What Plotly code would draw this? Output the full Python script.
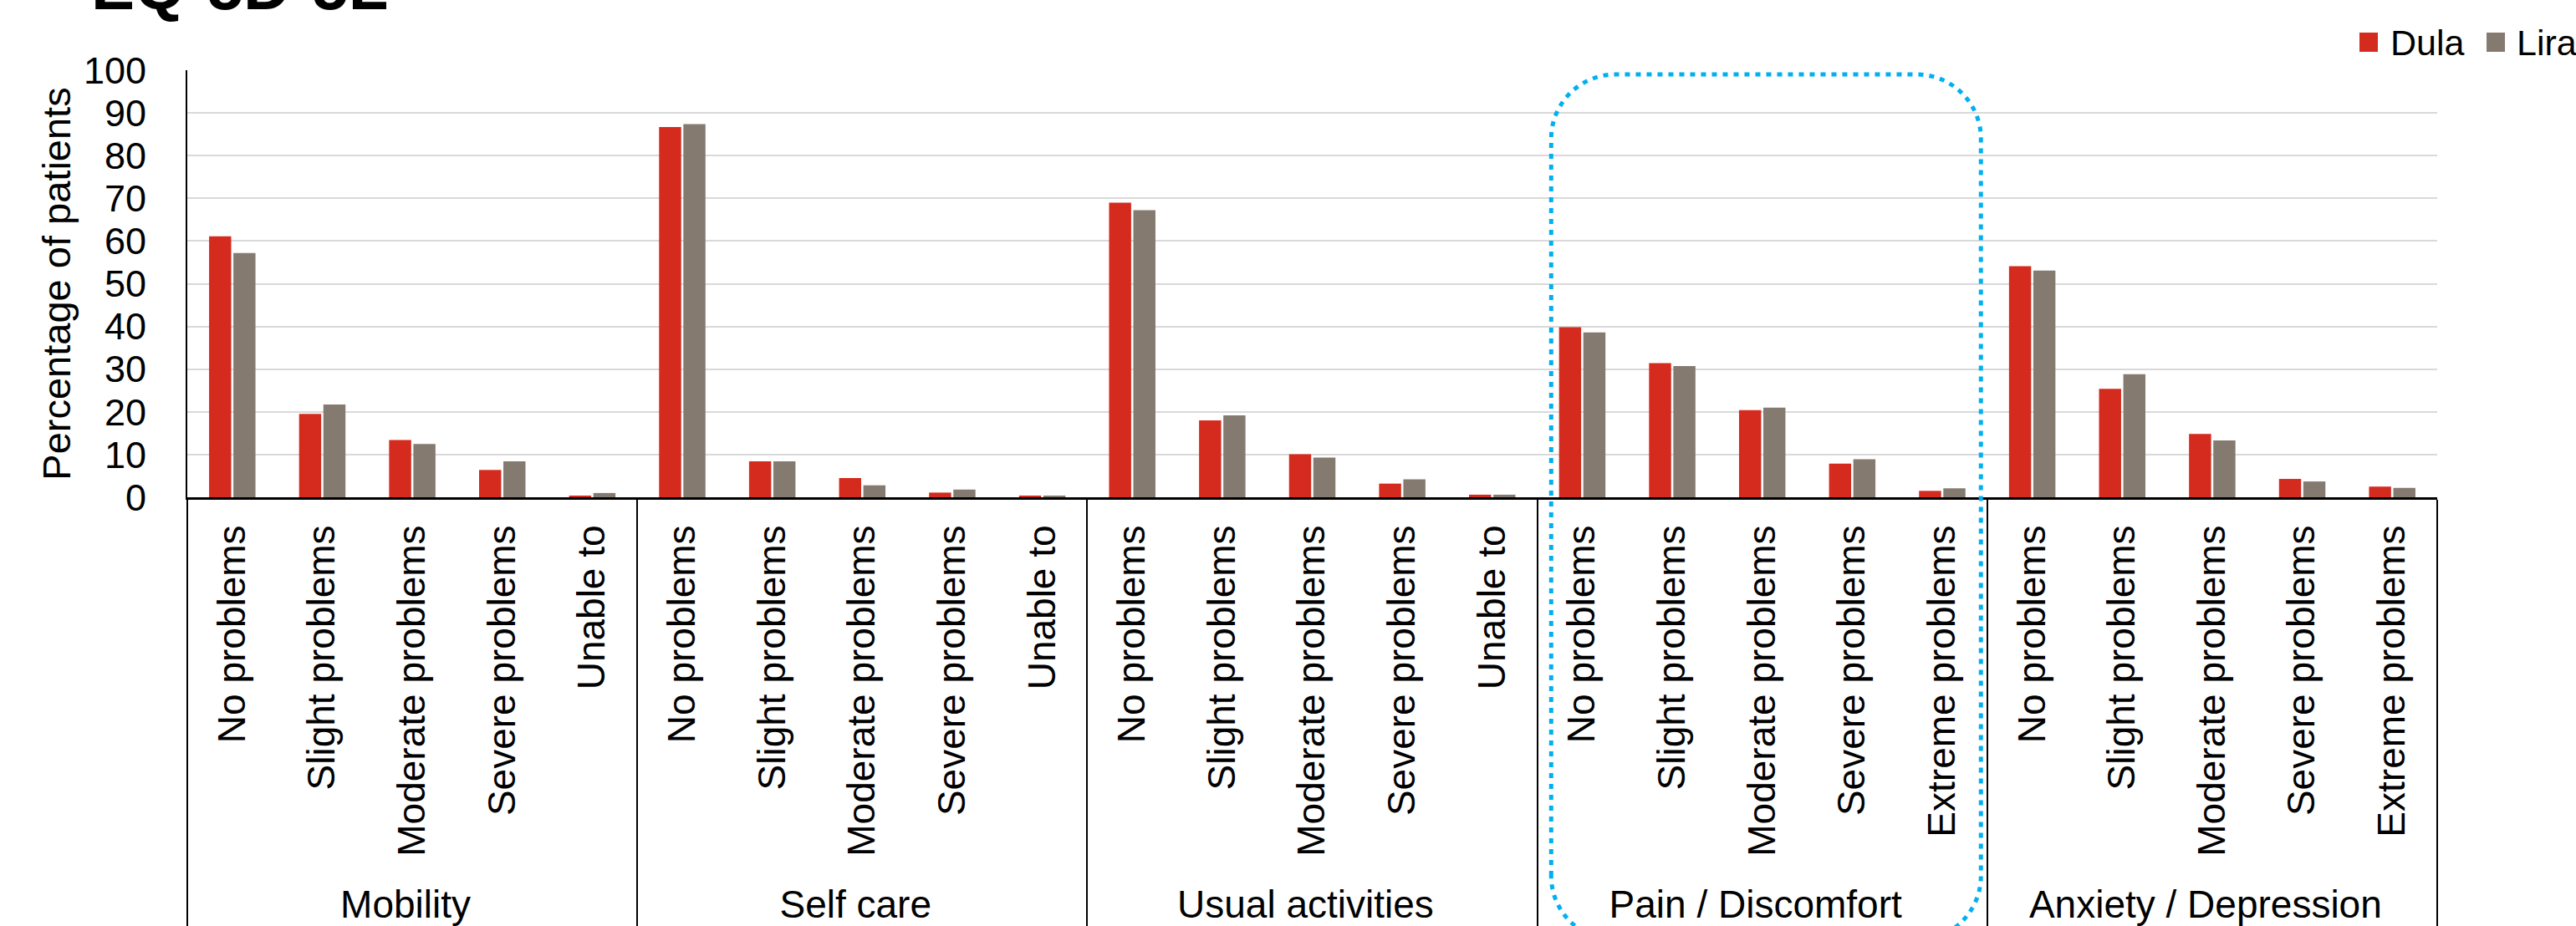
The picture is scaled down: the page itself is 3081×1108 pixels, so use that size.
import plotly.graph_objects as go

# ---------------- data ----------------
groups = ["Mobility", "Self care", "Usual activities", "Pain / Discomfort", "Anxiety / Depression"]
levels_a = ["No problems", "Slight problems", "Moderate problems", "Severe problems", "Unable to"]
levels_b = ["No problems", "Slight problems", "Moderate problems", "Severe problems", "Extreme problems"]
group_levels = [levels_a, levels_a, levels_a, levels_b, levels_b]

series_names = ["Dula", "Lira"]
dula = [61.1, 19.5, 13.4, 6.4, 0.4,
        86.7, 8.4, 4.5, 1.1, 0.4,
        69.0, 18.0, 10.1, 3.2, 0.6,
        39.8, 31.4, 20.4, 7.9, 1.5,
        54.1, 25.4, 14.8, 4.3, 2.5]
lira = [57.2, 21.7, 12.5, 8.4, 1.0,
        87.4, 8.4, 2.8, 1.8, 0.4,
        67.2, 19.2, 9.3, 4.2, 0.6,
        38.6, 30.7, 21.0, 8.9, 2.1,
        53.1, 28.8, 13.3, 3.7, 2.2]
y_ticks = [0, 10, 20, 30, 40, 50, 60, 70, 80, 90, 100]
title_text = "EQ-5D-5L"
y_title = "Percentage of patients"
highlight_group = "Pain / Discomfort"

RED = "#D52B1E"
GRAY = "#857A70"
BLUE = "#00B0F0"
FONT = "Arial, Liberation Sans, sans-serif"

x_outer = [g for g, lv in zip(groups, group_levels) for _ in lv]
x_inner = [l for lv in group_levels for l in lv]

fig = go.Figure()
fig.add_trace(go.Bar(x=[x_outer, x_inner], y=dula, name=series_names[0],
                     marker=dict(color=RED, line=dict(width=0))))
fig.add_trace(go.Bar(x=[x_outer, x_inner], y=lira, name=series_names[1],
                     marker=dict(color=GRAY, line=dict(width=0))))

W, H = 3081, 1108
ML, MR, MT, MB = 224, 166, 84, 513
PW = W - ML - MR
PH = H - MT - MB

fig.update_layout(
    width=W, height=H,
    margin=dict(l=ML, r=MR, t=MT, b=MB, autoexpand=False),
    plot_bgcolor="white", paper_bgcolor="white",
    barmode="group", bargap=0.46, bargroupgap=0.09,
    showlegend=False,
    font=dict(family=FONT, color="black"),
)
fig.update_xaxes(
    type="multicategory", tickangle=-90, tickfont=dict(size=46, color="black"),
    showline=True, linecolor="black", linewidth=3, showgrid=False, ticks="",
    showdividers=True, dividercolor="black", dividerwidth=2,
    ticklabelstandoff=12, automargin=False,
)
fig.update_yaxes(
    range=[0, 100], tickvals=y_ticks, showgrid=True, gridcolor="#D9D9D9", gridwidth=2,
    showline=True, linecolor="black", linewidth=2, ticks="", zeroline=False,
    tickfont=dict(size=45, color="black"), ticklabelstandoff=38, automargin=False,
    title=dict(text=y_title, font=dict(size=47, color="black"), standoff=0),
)

# title (mostly cropped above the frame, as in the reference)
fig.add_annotation(text="<b>%s</b>" % title_text, xref="paper", yref="paper",
                   x=(107 - ML) / PW, y=(MT + PH + 16) / PH, xanchor="left", yanchor="middle",
                   showarrow=False, font=dict(size=78, color="black", family=FONT))

# manual legend
def px_x(p):
    return (p - ML) / PW

def px_y(p):
    return (MT + PH - p) / PH

for name, col, sx, tx in [(series_names[0], RED, 2822, 2857), (series_names[1], GRAY, 2974, 3008)]:
    fig.add_shape(type="rect", xref="paper", yref="paper",
                  x0=px_x(sx), x1=px_x(sx + 22), y0=px_y(62), y1=px_y(39),
                  fillcolor=col, line=dict(width=0))
    fig.add_annotation(text=name, xref="paper", yref="paper", x=px_x(tx), y=px_y(51),
                       xanchor="left", yanchor="middle", showarrow=False,
                       font=dict(size=43, color="black", family=FONT))

# highlight box around the Pain / Discomfort group
gi = groups.index(highlight_group)
start = sum(len(lv) for lv in group_levels[:gi])
n_cat = len(x_inner)
left = (start + 0.155) / n_cat
right = (start + len(group_levels[gi]) - 0.07) / n_cat
top = px_y(89)
bot = px_y(1125)
rx = 77 / PW
ry = 77 / PH
k = 0.5523
path = (
    f"M {left},{bot + ry} L {left},{top - ry} "
    f"C {left},{top - ry + k*ry} {left + rx - k*rx},{top} {left + rx},{top} "
    f"L {right - rx},{top} "
    f"C {right - rx + k*rx},{top} {right},{top - ry + k*ry} {right},{top - ry} "
    f"L {right},{bot + ry} "
    f"C {right},{bot + ry - k*ry} {right - rx + k*rx},{bot} {right - rx},{bot} "
    f"L {left + rx},{bot} "
    f"C {left + rx - k*rx},{bot} {left},{bot + ry - k*ry} {left},{bot + ry} Z"
)
fig.add_shape(type="path", xref="paper", yref="paper", path=path,
              line=dict(color=BLUE, width=5, dash="6px,7px"), fillcolor="rgba(0,0,0,0)",
              layer="above")

fig.write_html("out.html")
